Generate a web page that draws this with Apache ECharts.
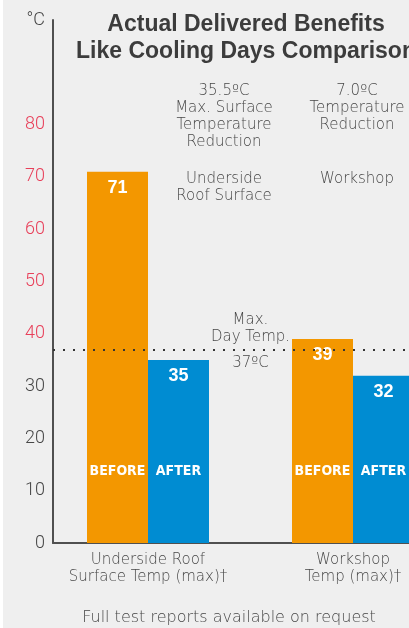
<!DOCTYPE html>
<html>
<head>
<meta charset="utf-8">
<script src="https://cdn.jsdelivr.net/npm/echarts@6.0.0/dist/echarts.min.js"></script>
<style>
  html, body { margin: 0; padding: 0; }
  #chart {
    width: 409px;
    height: 628px;
    background: linear-gradient(to right, #ffffff 3px, #efefef 3px);
  }
</style>
</head>
<body>
<div id="chart"></div>
<script>
// --- DATA ---
const categories = ['Underside Roof\nSurface Temp (max)†', 'Workshop\nTemp (max)†'];
const beforeValues = [71, 39];
const afterValues = [35, 32];
const maxDayTemp = 37;
const yTicks = [0, 10, 20, 30, 40, 50, 60, 70, 80];

// --- STYLE ---
const ORANGE = '#f39700';
const BLUE = '#008cd2';
const RED = '#e8405a';
const GREY = '#474747';
const AXIS = '#505050';
const LIGHT = '"DejaVu Sans", "Open Sans", sans-serif';

const chart = echarts.init(document.getElementById('chart'));

const valueLabel = {
    show: true,
    position: 'insideTop',
    distance: 7,
    color: '#fff',
    fontSize: 18,
    fontWeight: 'bold',
    fontFamily: '"Liberation Sans", sans-serif'
};

const wordLabel = (word) => ({
    show: true,
    position: 'insideBottom',
    distance: 65,
    formatter: word,
    color: '#fff',
    fontSize: 14,
    fontWeight: 'bold',
    fontFamily: '"DejaVu Sans Condensed", "Liberation Sans Narrow", sans-serif'
});

const note = (x, y, text) => ({
    type: 'text',
    x: x,
    y: y,
    style: {
        text: text,
        align: 'center',
        verticalAlign: 'top',
        fill: GREY,
        font: '200 15px ' + LIGHT,
        lineHeight: 17
    }
});

chart.setOption({
    backgroundColor: 'transparent',
    animation: false,
    grid: [
        // axes frame
        { left: 53, top: 20, right: 0, bottom: 85, outerBoundsMode: 'none' },
        // bars
        { left: 45.5, top: 20, width: 410, bottom: 85, outerBoundsMode: 'none' }
    ],
    xAxis: [
        {
            type: 'category', gridIndex: 0, data: categories,
            axisLine: { lineStyle: { color: AXIS, width: 2 } },
            axisTick: { show: false },
            axisLabel: { show: false }
        },
        {
            type: 'category', gridIndex: 1, data: categories,
            axisLine: { show: false },
            axisTick: { show: false },
            axisLabel: {
                interval: 0,
                showMinLabel: true,
                showMaxLabel: true,
                hideOverlap: false,
                margin: 9,
                color: GREY,
                fontSize: 15,
                lineHeight: 17,
                fontWeight: 200,
                fontFamily: LIGHT
            }
        },
        {
            type: 'category', gridIndex: 1, data: categories, show: false
        }
    ],
    yAxis: [
        {
            type: 'value', gridIndex: 0, min: 0, max: 100, interval: 10,
            axisLine: { show: true, lineStyle: { color: AXIS, width: 2 } },
            axisTick: { show: false },
            splitLine: { show: false },
            axisLabel: {
                margin: 8,
                fontSize: 18,
                fontWeight: 300,
                fontFamily: 'Roboto, sans-serif',
                formatter: (v) => v === 100 ? '°C' : (yTicks.indexOf(v) >= 0 ? String(v) : ''),
                color: (v) => (v >= 40 && v <= 80) ? RED : GREY
            }
        },
        {
            type: 'value', gridIndex: 1, min: 0, max: 100, show: false
        }
    ],
    series: [
        {
            name: 'BEFORE', type: 'bar', xAxisIndex: 1, yAxisIndex: 1,
            data: beforeValues, barWidth: 61, barGap: '0%',
            itemStyle: { color: ORANGE },
            label: valueLabel,
            markLine: {
                silent: true,
                symbol: 'none',
                lineStyle: { color: 'rgba(0,0,0,0)', width: 0 },
                label: {
                    color: GREY,
                    fontSize: 15,
                    lineHeight: 17,
                    fontWeight: 200,
                    fontFamily: LIGHT
                },
                data: [
                    { yAxis: maxDayTemp, label: { formatter: 'Max.\nDay Temp.', position: 'insideMiddleTop', distance: 4 } },
                    { yAxis: maxDayTemp, label: { formatter: maxDayTemp + 'ºC', position: 'insideMiddleBottom', distance: 5 } }
                ]
            }
        },
        {
            name: 'AFTER', type: 'bar', xAxisIndex: 1, yAxisIndex: 1,
            data: afterValues, barWidth: 61, barGap: '0%',
            itemStyle: { color: BLUE },
            label: valueLabel
        },
        {
            name: 'BEFORE words', type: 'bar', xAxisIndex: 2, yAxisIndex: 1,
            data: beforeValues, barWidth: 61, barGap: '0%', silent: true,
            itemStyle: { color: 'rgba(0,0,0,0)' },
            label: wordLabel('BEFORE')
        },
        {
            name: 'AFTER words', type: 'bar', xAxisIndex: 2, yAxisIndex: 1,
            data: afterValues, barWidth: 61, barGap: '0%', silent: true,
            itemStyle: { color: 'rgba(0,0,0,0)' },
            label: wordLabel('AFTER')
        },
        {
            // carries the dotted max day temp line inside the axis frame
            name: 'Max. Day Temp.', type: 'line', xAxisIndex: 0, yAxisIndex: 0,
            data: [],
            markLine: {
                silent: true,
                symbol: 'none',
                label: { show: false },
                lineStyle: { color: '#333', width: 2, type: [2, 8] },
                data: [{ yAxis: maxDayTemp }]
            }
        }
    ],
    graphic: [
        {
            type: 'text', x: 246, y: 11,
            style: {
                text: 'Actual Delivered Benefits\nLike Cooling Days Comparison',
                align: 'center',
                verticalAlign: 'top',
                fill: '#3c3c3c',
                font: 'bold 23px "Liberation Sans", sans-serif',
                lineHeight: 27
            }
        },
        note(224, 83, '35.5ºC\nMax. Surface\nTemperature\nReduction'),
        note(224, 171, 'Underside\nRoof Surface'),
        note(357, 83, '7.0ºC\nTemperature\nReduction'),
        note(357, 171, 'Workshop'),
        {
            type: 'text', x: 229, y: 610,
            style: {
                text: 'Full test reports available on request',
                align: 'center',
                verticalAlign: 'top',
                fill: GREY,
                font: '200 16px ' + LIGHT
            }
        }
    ]
});
</script>
</body>
</html>
